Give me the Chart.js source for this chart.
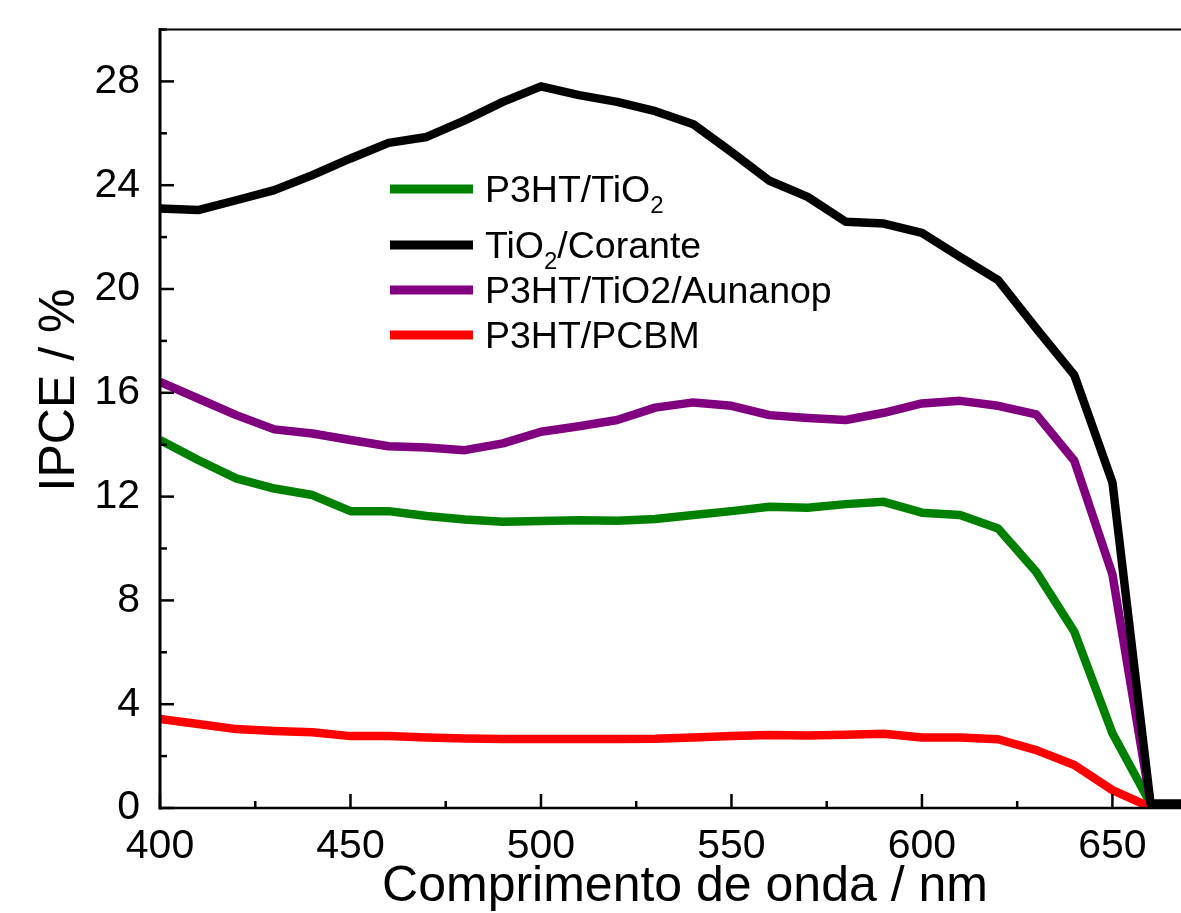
<!DOCTYPE html>
<html>
<head>
<meta charset="utf-8">
<script src="https://cdn.jsdelivr.net/npm/chart.js@4.4.1/dist/chart.umd.min.js"></script>
<style>
  html, body { margin: 0; padding: 0; background: #ffffff; overflow: hidden; }
  #wrap { width: 1181px; height: 913px; }
</style>
</head>
<body>
<div id="wrap"><canvas id="c" width="1181" height="913"></canvas></div>
<script>
// ---- data ----
const wavelengths = [400, 410, 420, 430, 440, 450, 460, 470, 480, 490, 500, 510, 520, 530, 540, 550, 560, 570, 580, 590, 600, 610, 620, 630, 640, 650, 660, 670];

const p3htTiO2 = [14.18, 13.41, 12.70, 12.31, 12.06, 11.44, 11.44, 11.25, 11.12, 11.03, 11.06, 11.09, 11.07, 11.14, 11.29, 11.44, 11.61, 11.57, 11.71, 11.80, 11.38, 11.29, 10.77, 9.10, 6.79, 2.88, 0.17, null];
const tiO2Corante = [23.10, 23.04, 23.42, 23.81, 24.39, 25.03, 25.63, 25.86, 26.50, 27.21, 27.81, 27.47, 27.21, 26.85, 26.35, 25.28, 24.17, 23.55, 22.59, 22.52, 22.16, 21.24, 20.34, 18.48, 16.68, 12.55, 0.17, 0.17];
const p3htTiO2Au = [16.42, 15.78, 15.14, 14.59, 14.43, 14.18, 13.94, 13.89, 13.79, 14.05, 14.50, 14.71, 14.95, 15.43, 15.63, 15.50, 15.14, 15.03, 14.95, 15.23, 15.59, 15.69, 15.50, 15.17, 13.38, 9.00, 0.17, null];
const p3htPCBM = [3.43, 3.24, 3.04, 2.97, 2.92, 2.77, 2.77, 2.72, 2.68, 2.66, 2.66, 2.66, 2.66, 2.67, 2.72, 2.77, 2.81, 2.79, 2.82, 2.86, 2.72, 2.72, 2.65, 2.23, 1.66, 0.69, 0.03, 0.00];

const seriesLabels = ['P3HT/TiO\u2082', 'TiO\u2082/Corante', 'P3HT/TiO2/Aunanop', 'P3HT/PCBM'];
const seriesColors = ['#008000', '#000000', '#800080', '#ff0000'];

const xTickValues = [400, 450, 500, 550, 600, 650];
const yTickValues = [0, 4, 8, 12, 16, 20, 24, 28];
const xMinorStep = 25;
const yMinorStep = 2;
const xTitle = 'Comprimento de onda / nm';
const yTitle = 'IPCE / %';

const FONT = "'Liberation Sans', Arial, Helvetica, sans-serif";

function toPoints(arr) {
  return wavelengths.map((x, i) => ({ x: x, y: arr[i] })).filter(p => p.y !== null);
}

// ---- axes / ticks / titles / legend plugin ----
const framePlugin = {
  id: 'frame',
  afterDraw(chart, args, opts) {
    const ctx = chart.ctx;
    const ca = chart.chartArea;
    const xs = chart.scales.x, ys = chart.scales.y;
    ctx.save();
    ctx.strokeStyle = '#000';
    ctx.lineCap = 'square';
    // left axis
    ctx.lineWidth = 3;
    ctx.beginPath(); ctx.moveTo(ca.left, ca.top); ctx.lineTo(ca.left, ca.bottom); ctx.stroke();
    // bottom axis
    ctx.lineWidth = 2.5;
    ctx.beginPath(); ctx.moveTo(ca.left, ca.bottom); ctx.lineTo(ca.right + 5, ca.bottom); ctx.stroke();
    // top frame
    ctx.lineWidth = 2;
    ctx.beginPath(); ctx.moveTo(ca.left, ca.top); ctx.lineTo(ca.right + 5, ca.top); ctx.stroke();
    ctx.lineCap = 'butt';
    // y ticks (inward)
    ctx.lineWidth = 2.5;
    for (let v = ys.min; v <= ys.max + 1e-9; v += yMinorStep) {
      const py = ys.getPixelForValue(v);
      const major = yTickValues.indexOf(v) >= 0;
      const len = major ? 14 : 7;
      ctx.beginPath(); ctx.moveTo(ca.left, py); ctx.lineTo(ca.left + len, py); ctx.stroke();
    }
    // x ticks (inward)
    for (let v = xs.min; v <= xs.max + 1e-9; v += xMinorStep) {
      const px = xs.getPixelForValue(v);
      const major = xTickValues.indexOf(v) >= 0;
      const len = major ? 14 : 7;
      ctx.beginPath(); ctx.moveTo(px, ca.bottom); ctx.lineTo(px, ca.bottom - len); ctx.stroke();
    }
    // titles
    ctx.fillStyle = '#000';
    ctx.font = '50px ' + FONT;
    ctx.textAlign = 'center';
    ctx.textBaseline = 'alphabetic';
    ctx.fillText(xTitle, opts.xTitleX, opts.xTitleY);
    ctx.save();
    ctx.translate(opts.yTitleX, opts.yTitleY);
    ctx.rotate(-Math.PI / 2);
    ctx.fillText(yTitle, 0, 0);
    ctx.restore();

    // legend
    const lg = opts.legend;
    chart.data.datasets.forEach((ds, i) => {
      const cy = lg.rows[i];
      ctx.strokeStyle = ds.borderColor;
      ctx.lineWidth = lg.lineWidth;
      ctx.beginPath(); ctx.moveTo(lg.lineX0, cy); ctx.lineTo(lg.lineX1, cy); ctx.stroke();
      let x = lg.textX;
      const base = cy + lg.baselineOffset;
      ctx.textAlign = 'left';
      ctx.textBaseline = 'alphabetic';
      ctx.fillStyle = '#000';
      const parts = ds.label.split(/(\u2082)/);
      parts.forEach(p => {
        if (p === '\u2082') {
          ctx.font = lg.subSize + 'px ' + FONT;
          ctx.fillText('2', x, base + lg.subDrop);
          x += ctx.measureText('2').width;
        } else if (p.length) {
          ctx.font = lg.fontSize + 'px ' + FONT;
          ctx.fillText(p, x, base);
          x += ctx.measureText(p).width;
        }
      });
    });
    ctx.restore();
  }
};

const lineStyle = { borderWidth: 8.5, pointRadius: 0, tension: 0, borderJoinStyle: 'round', borderCapStyle: 'butt', fill: false };

new Chart(document.getElementById('c'), {
  type: 'line',
  data: {
    datasets: [
      Object.assign({ label: seriesLabels[0], data: toPoints(p3htTiO2), borderColor: seriesColors[0], order: 3 }, lineStyle),
      Object.assign({ label: seriesLabels[1], data: toPoints(tiO2Corante), borderColor: seriesColors[1], order: 0 }, lineStyle),
      Object.assign({ label: seriesLabels[2], data: toPoints(p3htTiO2Au), borderColor: seriesColors[2], order: 2 }, lineStyle),
      Object.assign({ label: seriesLabels[3], data: toPoints(p3htPCBM), borderColor: seriesColors[3], order: 1 }, lineStyle)
    ]
  },
  options: {
    responsive: false,
    animation: false,
    events: [],
    layout: { padding: { top: 29.5, right: 0, bottom: 0, left: 0 } },
    plugins: {
      legend: { display: false },
      tooltip: { enabled: false },
      frame: {
        xTitleX: 685, xTitleY: 901,
        yTitleX: 74, yTitleY: 390,
        legend: {
          rows: [189, 245, 290, 335],
          lineX0: 390, lineX1: 473, lineWidth: 9,
          textX: 485, fontSize: 37.5, baselineOffset: 13,
          subSize: 24, subDrop: 11
        }
      }
    },
    scales: {
      x: {
        type: 'linear',
        min: 400, max: 668,
        afterFit(s) { s.height = 105; },
        afterBuildTicks(s) { s.ticks = xTickValues.map(v => ({ value: v })); },
        ticks: { padding: 14, color: '#000', font: { family: FONT, size: 41 }, maxRotation: 0, autoSkip: false },
        grid: { display: false, drawTicks: false },
        border: { display: false }
      },
      y: {
        type: 'linear',
        min: 0, max: 30,
        afterFit(s) { s.width = 160; },
        afterBuildTicks(s) { s.ticks = yTickValues.map(v => ({ value: v })); },
        ticks: { padding: 20, color: '#000', font: { family: FONT, size: 41, lineHeight: 0.4 } },
        grid: { display: false, drawTicks: false },
        border: { display: false }
      }
    }
  },
  plugins: [framePlugin]
});
</script>
</body>
</html>
